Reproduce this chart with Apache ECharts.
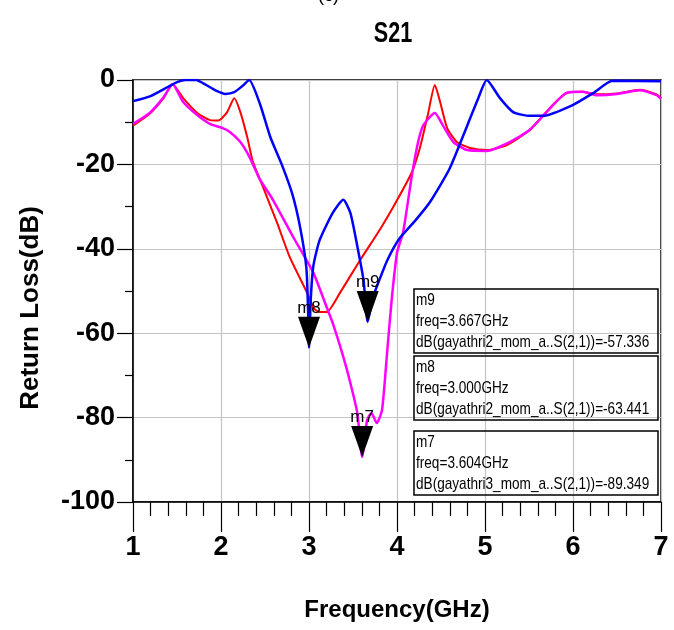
<!DOCTYPE html>
<html>
<head>
<meta charset="utf-8">
<script src="https://cdn.jsdelivr.net/npm/echarts@6/dist/echarts.min.js"></script>
<style>
  html, body { margin: 0; padding: 0; background: #fff; }
  #chart { width: 674px; height: 630px; }
</style>
</head>
<body>
<div id="chart"></div>
<script>
// S21 curves (frequency in GHz, level in dB)
var freqBlue = [1.0, 1.2, 1.4, 1.5, 1.6, 1.72, 1.8, 1.95, 2.05, 2.15, 2.25, 2.32, 2.44, 2.56, 2.69, 2.81, 2.9, 2.97, 2.99, 3.0,
    3.02, 3.05, 3.12, 3.27, 3.39, 3.47, 3.55, 3.62, 3.667, 3.72, 3.77, 3.89, 4.03, 4.2, 4.375, 4.6, 4.8, 4.92, 5.02, 5.17,
    5.32, 5.51, 5.66, 6.0, 6.23, 6.45, 7.0];
var dbBlue = [-5.0, -3.8, -1.6, -0.5, 0, 0, -0.8, -2.6, -3.3, -2.9, -1.3, 0, -5.5, -13.5, -20.0, -27.0, -35.0, -44.5, -55, -63.4,
    -52, -44, -38, -31.5, -28.4, -31.5, -39.5, -47.5, -57.3, -52, -49, -42.7, -37.5, -33.5, -28.9, -20.9, -10.7, -4.5, 0, -4.3,
    -7.6, -8.5, -8.5, -5.9, -3.1, -0.2, -0.3];

var freqRed = [1.0, 1.19, 1.34, 1.45, 1.57, 1.73, 1.875, 1.97, 2.07, 2.15, 2.22, 2.3, 2.36, 2.48, 2.64, 2.78, 2.98, 3.05, 3.12, 3.2,
    3.35, 3.58, 3.81, 4.0, 4.17, 4.26, 4.35, 4.43, 4.49, 4.57, 4.68, 4.83, 5.02, 5.25, 5.51, 5.77, 5.93, 6.11, 6.27, 6.5,
    6.76, 6.95, 7.0];
var dbRed = [-10.8, -8.0, -4.5, -1.0, -4.3, -7.8, -9.5, -9.6, -7.6, -4.3, -7.6, -13.7, -19.2, -25.5, -34, -41.9, -50.5, -54, -55, -55,
    -50.5, -42.7, -35.3, -28.5, -21.8, -16.1, -8.3, -1.2, -5.2, -11.4, -14.7, -16.1, -16.6, -15.4, -11.8, -5.9, -3.1, -2.8, -3.4, -3.2,
    -2.3, -3.4, -4.3];

var freqMagenta = [1.0, 1.19, 1.34, 1.45, 1.57, 1.73, 1.875, 2.02, 2.1, 2.22, 2.33, 2.44, 2.59, 2.82, 3.05, 3.2, 3.27, 3.39, 3.47, 3.55,
    3.604, 3.66, 3.71, 3.77, 3.83, 3.89, 3.94, 4.0, 4.07, 4.17, 4.24, 4.3, 4.43, 4.52, 4.64, 4.8, 5.02, 5.28, 5.51, 5.77,
    5.93, 6.11, 6.27, 6.5, 6.76, 6.95, 7.0];
var dbMagenta = [-10.4, -7.8, -4.3, -1.0, -5.2, -8.3, -10.4, -11.4, -12.3, -14.7, -18.5, -23.5, -28.4, -37.2, -45.7, -53.8, -57.6, -65.6, -71.8, -79,
    -89.3, -80.6, -78.9, -81.3, -78.2, -64, -52, -41, -36, -22.5, -14.7, -10.7, -7.8, -10.7, -14.7, -16.6, -16.8, -14.7, -11.8, -6.0,
    -3.0, -2.8, -3.6, -3.3, -2.4, -3.6, -4.5];

// marker readouts
var markerNames = ['m9', 'm8', 'm7'];
var markerFreq = [3.667, 3.000, 3.604];
var markerDb = [-57.336, -63.441, -89.349];
var markerFreqText = ['3.667GHz', '3.000GHz', '3.604GHz'];
var markerTrace = ['gayathri2_mom_a..S(2,1)', 'gayathri2_mom_a..S(2,1)', 'gayathri3_mom_a..S(2,1)'];
var markerDbText = ['-57.336', '-63.441', '-89.349'];

var xTicks = [1, 2, 3, 4, 5, 6, 7];
var yTicks = [0, -20, -40, -60, -80, -100];

var zip = (xs, ys) => xs.map((x, i) => [x, ys[i]]);

var triangle = 'path://M0,0L20,0L10,29Z';
var markStyle = {
    symbol: triangle,
    symbolSize: [22, 31],
    symbolOffset: [0, -15.5],
    itemStyle: { color: '#000' },
    label: {
        show: true,
        position: 'top',
        distance: 0,
        formatter: '{b}',
        color: '#000',
        fontFamily: 'Liberation Sans, Arial',
        fontSize: 17
    }
};

var mk = (i) => ({ name: markerNames[i], coord: [markerFreq[i], markerDb[i]] });

// readout boxes on the right
var boxTops = [289, 356, 431];
var boxes = [];
markerNames.forEach((name, i) => {
    boxes.push({
        type: 'rect',
        shape: { x: 414, y: boxTops[i], width: 244, height: 64 },
        style: { fill: 'none', stroke: '#000', lineWidth: 1.5 },
        z: 10
    });
    boxes.push({
        type: 'text',
        x: 416,
        y: boxTops[i] + 1,
        scaleX: 0.8,
        style: {
            text: name + '\nfreq=' + markerFreqText[i] + '\ndB(' + markerTrace[i] + ')=' + markerDbText[i],
            fill: '#000',
            font: '17px "Liberation Sans", Arial',
            lineHeight: 21
        },
        z: 10
    });
});

var boldFont = 'bold 30px "Liberation Sans", Arial';

var myChart = echarts.init(document.getElementById('chart'));
var option = {
    animation: false,
    backgroundColor: '#fff',
    grid: {
        left: 133,
        right: 13,
        top: 80,
        bottom: 128,
        show: true,
        borderColor: '#000',
        borderWidth: 1.5
    },
    xAxis: {
        type: 'value',
        min: xTicks[0],
        max: xTicks[xTicks.length - 1],
        interval: 1,
        name: 'Frequency(GHz)',
        nameLocation: 'middle',
        nameGap: 96,
        nameTextStyle: {
            fontFamily: 'Liberation Sans, Arial',
            fontWeight: 'bold',
            fontSize: 24,
            color: '#000'
        },
        axisLine: { onZero: false, lineStyle: { color: '#000', width: 1.5 } },
        axisTick: { length: 30, lineStyle: { color: '#000', width: 1.2 } },
        minorTick: { show: true, splitNumber: 5, length: 14, lineStyle: { color: '#000', width: 1.2 } },
        axisLabel: {
            margin: 32,
            fontFamily: 'Liberation Sans',
            fontWeight: 'bold',
            fontSize: 27,
            color: '#000'
        },
        splitLine: { show: true, lineStyle: { color: '#c4c4c4', width: 1.2 } }
    },
    yAxis: {
        type: 'value',
        min: yTicks[yTicks.length - 1],
        max: yTicks[0],
        interval: 20,
        axisLine: { show: true, onZero: false, lineStyle: { color: '#000', width: 1.5 } },
        axisTick: { show: true, length: 16, lineStyle: { color: '#000', width: 1.2 } },
        minorTick: { show: true, splitNumber: 2, length: 8, lineStyle: { color: '#000', width: 1.2 } },
        axisLabel: {
            margin: 18,
            fontFamily: 'Liberation Sans, Arial',
            fontWeight: 'bold',
            fontSize: 27,
            color: '#000'
        },
        splitLine: { show: true, lineStyle: { color: '#c4c4c4', width: 1.2 } }
    },
    series: [
        {
            name: 'red',
            type: 'line',
            data: zip(freqRed, dbRed),
            showSymbol: false,
            smooth: 0.2,
            lineStyle: { color: '#ff0000', width: 2 }
        },
        {
            name: 'gayathri3',
            type: 'line',
            data: zip(freqMagenta, dbMagenta),
            showSymbol: false,
            smooth: 0.2,
            lineStyle: { color: '#ff00ff', width: 2.5 },
            markPoint: Object.assign({ data: [mk(2)] }, markStyle)
        },
        {
            name: 'gayathri2',
            type: 'line',
            data: zip(freqBlue, dbBlue),
            showSymbol: false,
            smooth: 0.2,
            lineStyle: { color: '#0000ff', width: 2.5 },
            markPoint: Object.assign({ data: [mk(0), mk(1)] }, markStyle)
        }
    ],
    graphic: [
        {
            type: 'text',
            x: 318,
            y: -13,
            style: { text: '(c)', fill: '#000', font: '18px "Liberation Sans", Arial' }
        },
        {
            // title, drawn condensed like the original
            type: 'text',
            x: 393,
            y: 34,
            scaleX: 0.72,
            style: { text: 'S21', fill: '#000', font: boldFont, align: 'center', verticalAlign: 'middle' }
        },
        {
            type: 'text',
            x: 31,
            y: 308,
            rotation: Math.PI / 2,
            style: {
                text: 'Return Loss(dB)', fill: '#000', font: 'bold 26px "Liberation Sans", Arial',
                align: 'center', verticalAlign: 'middle'
            }
        }
    ].concat(boxes)
};
myChart.setOption(option, true);
</script>
</body>
</html>
